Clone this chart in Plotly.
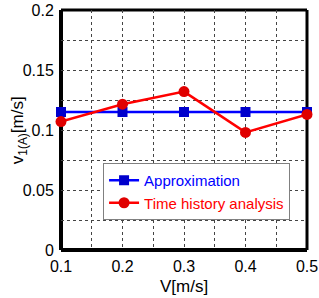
import plotly.graph_objects as go

velocity = [0.1, 0.2, 0.3, 0.4, 0.5]
approx = [0.115, 0.115, 0.115, 0.115, 0.115]
time_history = [0.107, 0.1215, 0.132, 0.098, 0.113]

approx_name = "Approximation"
th_name = "Time history analysis"
x_ticks = [0.1, 0.2, 0.3, 0.4, 0.5]
y_ticks = [0, 0.05, 0.1, 0.15, 0.2]
y_tick_text = ["0", "0.05", "0.1", "0.15", "0.2"]
x_title = "V[m/s]"
y_title = "v<sub>1(A)</sub>[m/s]"

FONT = "Liberation Sans, Arial, sans-serif"

fig = go.Figure()
fig.add_trace(go.Scatter(
    x=velocity, y=approx, mode="lines+markers",
    name=f"<span style='color:#0000ff'>{approx_name}</span>",
    line=dict(color="#0000ff", width=2.5),
    marker=dict(symbol="square", size=10, color="#0000cc"),
    cliponaxis=False,
))
fig.add_trace(go.Scatter(
    x=velocity, y=time_history, mode="lines+markers",
    name=f"<span style='color:#ff0000'>{th_name}</span>",
    line=dict(color="#ff0000", width=2.5),
    marker=dict(symbol="circle", size=11, color="#e00000"),
    cliponaxis=False,
))

grid = dict(showgrid=True, gridcolor="#444444", griddash="dot", gridwidth=1)


def border(x0, y0, x1, y1, w):
    return dict(type="line", xref="paper", yref="paper", x0=x0, x1=x1, y0=y0, y1=y1,
                line=dict(color="black", width=w), layer="below")


fig.update_layout(
    width=319, height=298,
    margin=dict(l=61, r=12, t=10, b=48),
    paper_bgcolor="white", plot_bgcolor="white",
    font=dict(family=FONT, size=16, color="black"),
    showlegend=True,
    legend=dict(
        x=0.171, y=0.3625, xanchor="left", yanchor="top",
        bgcolor="white", bordercolor="#808080", borderwidth=1,
        font=dict(size=15), tracegroupgap=0, itemwidth=30,
    ),
    xaxis=dict(
        range=[0.1, 0.5], tickvals=x_ticks, ticktext=[str(v) for v in x_ticks],
        showline=False,
        minor=dict(tickvals=[0.15, 0.25, 0.35, 0.45], **grid),
        ticks="outside", ticklen=2, tickcolor="rgba(0,0,0,0)",
        zeroline=False, automargin=False, **grid,
    ),
    yaxis=dict(
        range=[0, 0.2], tickvals=y_ticks, ticktext=y_tick_text,
        showline=False,
        minor=dict(tickvals=[0.025, 0.075, 0.125, 0.175], **grid),
        ticks="outside", ticklen=3, tickcolor="rgba(0,0,0,0)",
        zeroline=False, automargin=False, **grid,
    ),
    shapes=[
        border(0, 1, 1, 1, 3),
        border(1, 0, 1, 1, 3),
        border(0, 0, 1, 0, 4),
        border(0, 0, 0, 1, 4),
    ],
    annotations=[
        dict(text=x_title, xref="paper", yref="paper", x=0.5, y=-0.152,
             xanchor="center", yanchor="middle", showarrow=False,
             font=dict(size=17)),
        dict(text=y_title, xref="paper", yref="paper", x=-0.17, y=0.5,
             xanchor="center", yanchor="middle", showarrow=False, textangle=-90,
             font=dict(size=17)),
    ],
)

fig.write_html(
    "out.html",
    config={"displayModeBar": False},
    post_script="document.body.style.margin='0';document.body.style.overflow='hidden';",
)
